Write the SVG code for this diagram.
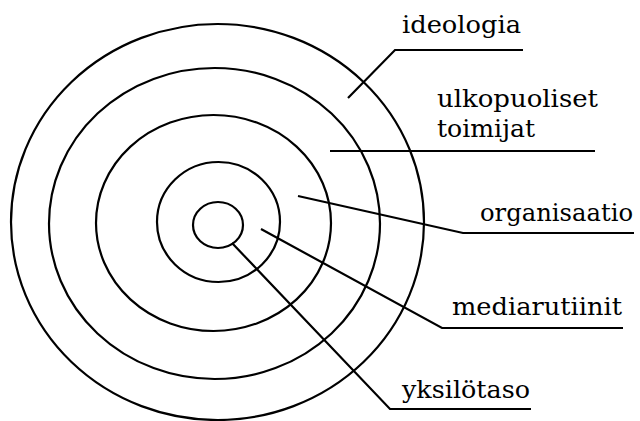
<svg xmlns="http://www.w3.org/2000/svg" width="640" height="421" viewBox="0 0 640 421">
<style>
.ring{fill:none;stroke:#000;stroke-width:2.2}
.ln{fill:none;stroke:#000;stroke-width:2.2;stroke-linejoin:miter}
.lbl{font-family:"DejaVu Serif","Liberation Serif",serif;font-size:25px;fill:#000}
</style>
<rect width="640" height="421" fill="#fff"/>
<g id="ring-ideologia"><ellipse class="ring" cx="217.5" cy="222" rx="206.5" ry="198"/></g>
<g id="ring-ulkopuoliset"><ellipse class="ring" cx="214.5" cy="223.5" rx="165.5" ry="155.5"/></g>
<g id="ring-organisaatio"><ellipse class="ring" cx="213.5" cy="223" rx="117.5" ry="108"/></g>
<g id="ring-mediarutiinit"><ellipse class="ring" cx="218.5" cy="222" rx="61.5" ry="60"/></g>
<g id="ring-yksilotaso"><ellipse class="ring" cx="218" cy="225" rx="25" ry="23"/></g>
<g id="connectors">
<polyline class="ln" points="348,98 395,50 523,50"/>
<line class="ln" x1="330" y1="151" x2="595" y2="151"/>
<polyline class="ln" points="298,196 463,233 634,233"/>
<polyline class="ln" points="261,229 442,328 623,328"/>
<polyline class="ln" points="232,243 390,409 531,409"/>
</g>
<g id="label-ideologia"><text class="lbl" x="402" y="33" textLength="119" lengthAdjust="spacingAndGlyphs">ideologia</text></g>
<g id="label-ulkopuoliset"><text class="lbl" x="437" y="107" textLength="161" lengthAdjust="spacingAndGlyphs">ulkopuoliset</text><text class="lbl" x="437" y="137" textLength="98" lengthAdjust="spacingAndGlyphs">toimijat</text></g>
<g id="label-organisaatio"><text class="lbl" x="480" y="221" textLength="153" lengthAdjust="spacingAndGlyphs">organisaatio</text></g>
<g id="label-mediarutiinit"><text class="lbl" x="452" y="315" textLength="170" lengthAdjust="spacingAndGlyphs">mediarutiinit</text></g>
<g id="label-yksilotaso"><text class="lbl" x="402" y="398" textLength="128" lengthAdjust="spacingAndGlyphs">yksilötaso</text></g>
</svg>
